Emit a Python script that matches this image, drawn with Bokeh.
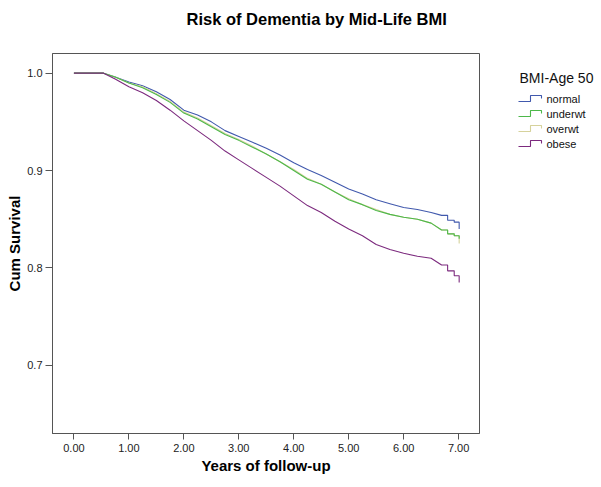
from bokeh.plotting import figure
from bokeh.layouts import row, column
from bokeh.models import Range1d, FixedTicker, NumeralTickFormatter, ColumnDataSource
from bokeh.core.properties import value
from bokeh.embed import file_html
from bokeh.resources import INLINE

# ---- data ----
years = [0.0, 0.54, 0.75, 1.0, 1.25, 1.5, 1.75, 2.0, 2.25, 2.5, 2.75, 3.0, 3.25, 3.5,
         3.75, 4.0, 4.25, 4.5, 4.75, 5.0, 5.25, 5.5, 5.75, 6.0, 6.25, 6.5,
         6.69, 6.80, 6.80, 6.92, 6.92, 7.01, 7.01]
normal = [1.0, 1.0, 0.996, 0.991, 0.987, 0.981, 0.973, 0.962, 0.957, 0.950, 0.941, 0.935, 0.929, 0.923,
          0.916, 0.908, 0.901, 0.895, 0.888, 0.881, 0.876, 0.870, 0.866, 0.862, 0.860, 0.857,
          0.854, 0.854, 0.849, 0.849, 0.847, 0.847, 0.840]
underwt = [1.0, 1.0, 0.996, 0.990, 0.985, 0.978, 0.970, 0.959, 0.953, 0.945, 0.937, 0.931, 0.924, 0.917,
           0.909, 0.900, 0.891, 0.886, 0.878, 0.870, 0.865, 0.859, 0.855, 0.852, 0.850, 0.846,
           0.839, 0.839, 0.835, 0.835, 0.833, 0.833, 0.830]
overwt = [1.0, 1.0, 0.996, 0.990, 0.986, 0.979, 0.971, 0.960, 0.954, 0.946, 0.938, 0.932, 0.925, 0.917,
          0.909, 0.901, 0.892, 0.886, 0.878, 0.871, 0.865, 0.860, 0.855, 0.852, 0.850, 0.846,
          0.839, 0.839, 0.835, 0.835, 0.833, 0.833, 0.825]
obese = [1.0, 1.0, 0.994, 0.986, 0.980, 0.972, 0.962, 0.951, 0.941, 0.931, 0.920, 0.911, 0.902, 0.893,
         0.884, 0.874, 0.864, 0.857, 0.848, 0.840, 0.833, 0.824, 0.819, 0.815, 0.812, 0.810,
         0.803, 0.803, 0.797, 0.797, 0.792, 0.792, 0.785]

group_names = ["normal", "underwt", "overwt", "obese"]
group_colors = ["#4159AD", "#4DB84A", "#D6D29C", "#7C2A7E"]
legend_title = "BMI-Age 50"
chart_title = "Risk of Dementia by Mid-Life BMI"
x_ticks = [0, 1, 2, 3, 4, 5, 6, 7]
y_ticks = [0.7, 0.8, 0.9, 1.0]

FONT = "Liberation Sans"
TH = 35            # height of the title strip
H = 441            # height of the chart row
W1 = 498
LW = 100
FRAME_LEFT, FRAME_RIGHT = 52, 479
FRAME_TOP, FRAME_BOTTOM = 53, 433   # page pixels

# ---- title strip ----
tf = figure(width=W1, height=TH, output_backend="svg", toolbar_location=None,
            x_range=Range1d(FRAME_LEFT, FRAME_RIGHT), y_range=Range1d(TH, 0))
tf.axis.visible = False
tf.grid.visible = False
tf.outline_line_color = None
tf.min_border_left = FRAME_LEFT
tf.min_border_right = W1 - FRAME_RIGHT
tf.min_border_top = 0
tf.min_border_bottom = 0
tf.text(x=[186], y=[18], text=[chart_title], text_font=value(FONT), text_font_size="16.5px",
        text_font_style="bold", text_baseline="middle", text_align="left", text_color="#000000")

# ---- main chart ----
p = figure(width=W1, height=H, output_backend="svg", toolbar_location=None,
           x_range=Range1d(-0.39, 7.38), y_range=Range1d(0.630, 1.0202))
p.min_border_left = FRAME_LEFT
p.min_border_right = W1 - FRAME_RIGHT
p.min_border_top = FRAME_TOP - TH
p.min_border_bottom = H + TH - FRAME_BOTTOM
p.grid.visible = False
p.outline_line_color = "#555555"
p.outline_line_width = 1
p.background_fill_color = "white"
p.border_fill_color = "white"

series = {"normal": normal, "underwt": underwt, "overwt": overwt, "obese": obese}
draw_order = ["normal", "overwt", "underwt", "obese"]
for name in draw_order:
    c = group_colors[group_names.index(name)]
    src = ColumnDataSource(dict(x=years, y=series[name]))
    p.line("x", "y", source=src, line_color=c, line_width=1.1)

for ax in (p.xaxis[0], p.yaxis[0]):
    ax.axis_line_color = "#555555"
    ax.major_tick_line_color = "#555555"
    ax.minor_tick_line_color = None
    ax.major_tick_in = 0
    ax.major_label_text_font = FONT
    ax.major_label_text_font_size = "11px"
    ax.major_label_text_color = "#222222"
    ax.axis_label_text_font = FONT
    ax.axis_label_text_font_size = "15px"
    ax.axis_label_text_font_style = "bold"
    ax.axis_label_text_color = "#000000"

p.xaxis.ticker = FixedTicker(ticks=x_ticks)
p.xaxis.formatter = NumeralTickFormatter(format="0.00")
p.xaxis.major_tick_out = 6
p.xaxis.major_label_standoff = 4
p.xaxis.axis_label = "Years of follow-up"
p.xaxis.axis_label_standoff = 2

p.yaxis.ticker = FixedTicker(ticks=y_ticks)
p.yaxis.formatter = NumeralTickFormatter(format="0.0")
p.yaxis.major_tick_out = 7
p.yaxis.major_label_standoff = 3
p.yaxis.axis_label = "Cum Survival"
p.yaxis.axis_label_standoff = 1

# ---- legend panel (frame aligned to the main frame: data units = page pixels) ----
lg = figure(width=LW, height=H, output_backend="svg", toolbar_location=None,
            x_range=Range1d(W1, W1 + LW), y_range=Range1d(FRAME_BOTTOM, FRAME_TOP))
lg.axis.visible = False
lg.grid.visible = False
lg.outline_line_color = None
lg.min_border_left = 0
lg.min_border_right = 0
lg.min_border_top = FRAME_TOP - TH
lg.min_border_bottom = H + TH - FRAME_BOTTOM

lg.text(x=[519], y=[77], text=[legend_title], text_font=value(FONT),
        text_font_size="14px", text_baseline="middle", text_color="#111111")
entry_y = [98, 113, 128, 143]
for i, name in enumerate(group_names):
    yy = entry_y[i]
    lg.line(x=[518, 530, 530, 541, 541], y=[yy + 3, yy + 3, yy - 3, yy - 3, yy],
            line_color=group_colors[i], line_width=1.1)
    lg.text(x=[546], y=[yy], text=[name], text_font=value(FONT), text_font_size="11px",
            text_baseline="middle", text_color="#111111")

layout = column(tf, row(p, lg))
open("out.html", "w").write(file_html(layout, INLINE))
